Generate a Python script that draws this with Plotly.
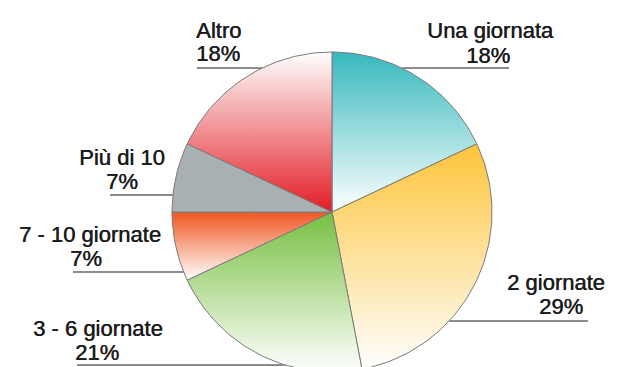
import math
import plotly.graph_objects as go

# Share of respondents by number of days (percent), clockwise from 12 o'clock
categories = ["Una giornata", "2 giornate", "3 - 6 giornate", "7 - 10 giornate", "Più di 10", "Altro"]
shares = [18, 29, 21, 7, 7, 18]

# Vertical gradient per slice: (bottom colour, top colour)
gradients = [
    ("#ffffff", "#36b8bd"),
    ("#ffffff", "#fcc43a"),
    ("#ffffff", "#76bf40"),
    ("#ffffff", "#f05622"),
    ("#a9b0b4", "#a9b0b4"),
    ("#e21d25", "#ffffff"),
]

# Label layout in screen pixels (y measured downward from top):
# name centre, percent centre, leader-line row, leader-line outer x
label_name_pos = [(490, 30), (556, 282), (98, 328), (90, 234), (122, 157), (218, 30)]
label_pct_pos = [(488, 55), (561, 306), (97, 352), (86, 258), (122, 181), (218, 53)]
leader_y = [68, 321, 365, 272, 195, 68]
leader_outer_x = [509, 588, 77, 73, 110, 197]

W, H = 618, 367
CX, CY, R = 332, 212, 160  # pie centre and radius, screen pixels


def Y(py):
    return H - py


fig = go.Figure()

cum = 0.0
for name, share, (c0, c1) in zip(categories, shares, gradients):
    a0 = cum / 100 * 2 * math.pi
    a1 = (cum + share) / 100 * 2 * math.pi
    cum += share
    n = max(8, int(share * 3))
    xs, ys = [CX], [Y(CY)]
    for i in range(n + 1):
        a = a0 + (a1 - a0) * i / n
        xs.append(CX + R * math.sin(a))
        ys.append(Y(CY) + R * math.cos(a))
    xs.append(CX)
    ys.append(Y(CY))
    fig.add_trace(go.Scatter(
        x=xs, y=ys, mode="lines", fill="toself",
        line=dict(color="#7a7a7a", width=1),
        fillgradient=dict(type="vertical", colorscale=[[0, c0], [1, c1]]),
        hoverinfo="skip", showlegend=False, name=name,
    ))

# Leader lines: from the outer end to the rim of the pie
for (px_out, py) in zip(leader_outer_x, leader_y):
    dy = py - CY
    half = math.sqrt(max(R * R - dy * dy, 0))
    px_in = CX + half if px_out > CX else CX - half
    fig.add_trace(go.Scatter(
        x=[px_out, px_in], y=[Y(py), Y(py)], mode="lines",
        line=dict(color="#8c8c8c", width=2),
        hoverinfo="skip", showlegend=False,
    ))

font = dict(family="Liberation Sans, Arial, sans-serif", size=22, color="#1c1c1c",
            shadow="0.5px 0 0 #1c1c1c")
for name, share, (nx, ny), (qx, qy) in zip(categories, shares, label_name_pos, label_pct_pos):
    fig.add_annotation(x=nx, y=Y(ny), text=name, showarrow=False,
                       xanchor="center", yanchor="middle", font=font)
    fig.add_annotation(x=qx, y=Y(qy), text=f"{share}%", showarrow=False,
                       xanchor="center", yanchor="middle", font=font)

fig.update_layout(
    width=W, height=H,
    margin=dict(l=0, r=0, t=0, b=0),
    paper_bgcolor="white", plot_bgcolor="white",
    xaxis=dict(range=[0, W], visible=False, fixedrange=True),
    yaxis=dict(range=[0, H], visible=False, fixedrange=True),
)

fig.write_html("out.html")
